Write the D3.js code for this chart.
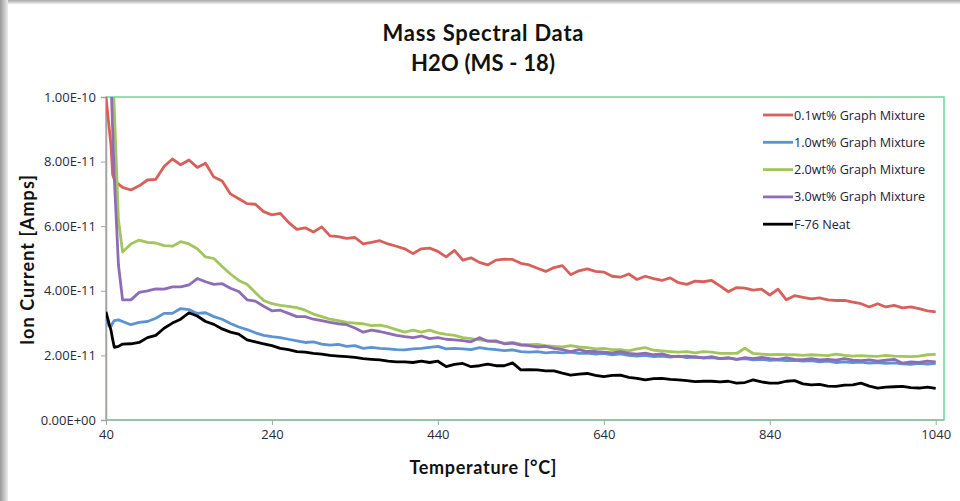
<!DOCTYPE html>
<html>
<head>
<meta charset="utf-8">
<script src="https://cdn.jsdelivr.net/npm/d3@7/dist/d3.min.js"></script>
<style>
  body { margin: 0; background: #fff; }
  text { font-family: Lato, "Open Sans", sans-serif; }
</style>
</head>
<body>
<div id="chart"></div>
<script>
// temperature in degC, values in units of 1E-11 Amps
var temps = [40, 42, 44, 46, 48, 50, 55, 60,
  70, 80, 90, 100, 110, 120, 130, 140, 150, 160,
  170, 180, 190, 200, 210, 220, 230, 240, 250, 260,
  270, 280, 290, 300, 310, 320, 330, 340, 350, 360,
  370, 380, 390, 400, 410, 420, 430, 440, 450, 460,
  470, 480, 490, 500, 510, 520, 530, 540, 550, 560,
  570, 580, 590, 600, 610, 620, 630, 640, 650, 660,
  670, 680, 690, 700, 710, 720, 730, 740, 750, 760,
  770, 780, 790, 800, 810, 820, 830, 840, 850, 860,
  870, 880, 890, 900, 910, 920, 930, 940, 950, 960,
  970, 980, 990, 1000, 1010, 1020, 1030, 1040];

var mix01 = [10.0, 9.5, 9.0, 8.5, 7.6, 7.45, 7.3, 7.2,
  7.12, 7.25, 7.43, 7.45, 7.85, 8.08, 7.9, 8.05, 7.82, 7.95,
  7.52, 7.4, 7.0, 6.85, 6.7, 6.68, 6.45, 6.35, 6.4, 6.12,
  5.9, 5.95, 5.82, 5.98, 5.7, 5.68, 5.62, 5.65, 5.45, 5.5,
  5.55, 5.45, 5.38, 5.3, 5.15, 5.3, 5.32, 5.22, 5.05, 5.25,
  4.95, 5.02, 4.88, 4.8, 4.95, 4.98, 4.97, 4.85, 4.8, 4.7,
  4.6, 4.72, 4.78, 4.5, 4.62, 4.68, 4.6, 4.58, 4.45, 4.42,
  4.52, 4.35, 4.45, 4.38, 4.32, 4.4, 4.25, 4.2, 4.3, 4.28,
  4.32, 4.15, 3.97, 4.1, 4.08, 4.02, 4.05, 3.87, 4.05, 3.72,
  3.85, 3.8, 3.75, 3.78, 3.72, 3.7, 3.7, 3.65, 3.6, 3.5,
  3.6, 3.5, 3.55, 3.47, 3.5, 3.45, 3.38, 3.35];

var mix10 = [3.15, 3.0, 2.9, 2.9, 3.0, 3.08, 3.1, 3.05,
  2.95, 3.02, 3.05, 3.15, 3.3, 3.3, 3.45, 3.42, 3.3, 3.32,
  3.2, 3.12, 2.99, 2.88, 2.8, 2.7, 2.62, 2.58, 2.55, 2.5,
  2.45, 2.4, 2.42, 2.35, 2.32, 2.34, 2.28, 2.3, 2.22, 2.25,
  2.22, 2.2, 2.18, 2.17, 2.2, 2.22, 2.25, 2.28, 2.2, 2.22,
  2.2, 2.18, 2.24, 2.2, 2.18, 2.15, 2.17, 2.12, 2.1, 2.12,
  2.08, 2.1, 2.08, 2.1, 2.06, 2.07, 2.04, 2.06, 2.02, 2.05,
  2.0, 1.98, 2.0, 1.96, 1.98, 1.95, 1.98, 1.93, 1.95, 1.92,
  1.93, 1.9, 1.92, 1.88, 1.9, 1.86, 1.88, 1.85, 1.86, 1.84,
  1.85, 1.82, 1.84, 1.8, 1.82, 1.78, 1.8, 1.78, 1.79, 1.76,
  1.78, 1.75, 1.77, 1.74, 1.72, 1.75, 1.73, 1.75];

var mix20 = [18, 16, 14, 12.5, 11, 9.6, 6.2, 5.2,
  5.45, 5.57, 5.5, 5.48, 5.4, 5.38, 5.52, 5.45, 5.3, 5.05,
  5.0, 4.75, 4.52, 4.32, 4.2, 3.95, 3.7, 3.6, 3.55, 3.52,
  3.48, 3.4, 3.28, 3.2, 3.12, 3.08, 3.02, 3.0, 2.98, 2.92,
  2.94, 2.88, 2.8, 2.72, 2.78, 2.72, 2.78, 2.7, 2.65, 2.62,
  2.55, 2.52, 2.48, 2.45, 2.42, 2.38, 2.4, 2.35, 2.33, 2.34,
  2.3, 2.28, 2.26, 2.3, 2.26, 2.24, 2.2, 2.22, 2.18, 2.18,
  2.14, 2.2, 2.24, 2.16, 2.14, 2.12, 2.1, 2.12, 2.08, 2.12,
  2.1, 2.06, 2.06, 2.06, 2.22, 2.06, 2.04, 2.02, 2.03, 2.02,
  2.02, 2.0, 2.02, 2.01, 1.99, 2.04, 2.0, 1.98, 1.99, 1.98,
  1.97, 2.0, 1.98, 1.97, 1.96, 1.98, 2.02, 2.03];

var mix30 = [16, 14, 12, 10.5, 9.0, 7.5, 4.8, 3.72,
  3.72, 3.95, 4.0, 4.06, 4.05, 4.12, 4.12, 4.18, 4.38, 4.28,
  4.2, 4.22, 4.08, 3.98, 3.72, 3.68, 3.52, 3.38, 3.4, 3.3,
  3.2, 3.2, 3.12, 3.08, 3.02, 2.98, 2.95, 2.85, 2.72, 2.78,
  2.74, 2.68, 2.62, 2.58, 2.55, 2.6, 2.52, 2.55, 2.5, 2.48,
  2.46, 2.42, 2.55, 2.44, 2.45, 2.36, 2.38, 2.32, 2.3, 2.26,
  2.28, 2.22, 2.18, 2.12, 2.18, 2.12, 2.12, 2.1, 2.08, 2.12,
  2.06, 2.04, 2.07, 2.02, 2.05, 1.98, 1.96, 1.98, 1.95, 1.92,
  1.96, 1.9, 1.92, 1.88, 1.93, 1.9, 1.94, 1.9, 1.88, 1.92,
  1.88, 1.87, 1.9, 1.86, 1.88, 1.85, 1.9, 1.85, 1.84, 1.86,
  1.82, 1.85, 1.88, 1.76, 1.8, 1.78, 1.82, 1.8];

var neat = [3.35, 3.15, 2.95, 2.78, 2.5, 2.25, 2.28, 2.35,
  2.36, 2.4, 2.55, 2.62, 2.84, 3.0, 3.12, 3.32, 3.22, 3.05,
  2.96, 2.82, 2.72, 2.66, 2.48, 2.42, 2.36, 2.3, 2.22, 2.18,
  2.12, 2.1, 2.06, 2.04, 2.0, 1.98, 1.96, 1.94, 1.9, 1.88,
  1.86, 1.82, 1.8, 1.8, 1.78, 1.82, 1.78, 1.82, 1.65, 1.72,
  1.75, 1.65, 1.68, 1.73, 1.68, 1.68, 1.77, 1.55, 1.56, 1.55,
  1.52, 1.52, 1.45, 1.39, 1.42, 1.44, 1.38, 1.34, 1.38, 1.39,
  1.32, 1.29, 1.24, 1.28, 1.29, 1.26, 1.24, 1.22, 1.19, 1.2,
  1.2, 1.18, 1.2, 1.14, 1.16, 1.24, 1.18, 1.14, 1.14, 1.2,
  1.22, 1.12, 1.09, 1.1, 1.05, 1.04, 1.08, 1.09, 1.14, 1.05,
  0.99, 1.02, 1.03, 1.04, 1.0, 0.99, 1.02, 0.98];

var seriesNames = ["0.1wt% Graph Mixture", "1.0wt% Graph Mixture", "2.0wt% Graph Mixture", "3.0wt% Graph Mixture", "F-76 Neat"];
var seriesValues = [mix01, mix10, mix20, mix30, neat];
var seriesColors = ["#d7605a", "#5b93d3", "#a2c65c", "#8e6cb8", "#000000"];

var xTicks = [40, 240, 440, 640, 840, 1040];
var yTicks = [0, 2, 4, 6, 8, 10];

function sciLabel(v) {
  var s = (v * 1e-11).toExponential(2).toUpperCase();
  return s.replace(/E([+-])(\d)$/, "E$10$2");
}

var W = 960, H = 501;
var svg = d3.select("#chart").append("svg").attr("width", W).attr("height", H);

// page shadow on the left and top
var defs = svg.append("defs");
var gl = defs.append("linearGradient").attr("id", "shL").attr("x1", 0).attr("x2", 1).attr("y1", 0).attr("y2", 0);
gl.append("stop").attr("offset", 0).attr("stop-color", "#9a9a9a");
gl.append("stop").attr("offset", 1).attr("stop-color", "#ececec");
var gt = defs.append("linearGradient").attr("id", "shT").attr("x1", 0).attr("x2", 0).attr("y1", 0).attr("y2", 1);
gt.append("stop").attr("offset", 0).attr("stop-color", "#a8a8a8");
gt.append("stop").attr("offset", 1).attr("stop-color", "#eeeeee");
svg.append("rect").attr("x", 0).attr("y", 0).attr("width", W).attr("height", 4).attr("fill", "url(#shT)");
svg.append("rect").attr("x", 0).attr("y", 0).attr("width", 8).attr("height", H).attr("fill", "url(#shL)");

var x = d3.scaleLinear().domain([40, 1050]).range([106, 944]);
var y = d3.scaleLinear().domain([0, 10]).range([420, 97]);

defs.append("clipPath").attr("id", "plotClip")
  .append("rect").attr("x", 106).attr("y", 97).attr("width", 838).attr("height", 323);

// plot area border
svg.append("rect").attr("x", 106).attr("y", 97).attr("width", 838).attr("height", 323)
  .attr("fill", "none").attr("stroke", "#6dd69c").attr("stroke-width", 1.5);

// Y axis
var yAxis = svg.append("g").attr("transform", "translate(106,0)")
  .call(d3.axisLeft(y).tickValues(yTicks).tickFormat(sciLabel).tickSize(5).tickPadding(5));
yAxis.select(".domain").attr("stroke", "#a3a3a3").attr("stroke-width", 1.5);
yAxis.selectAll(".tick line").attr("stroke", "#a3a3a3");
yAxis.selectAll("text").attr("font-size", 13).attr("fill", "#2a2a3a")
  .style("font-family", "'Open Sans', sans-serif");

// X axis
var xAxis = svg.append("g").attr("transform", "translate(0,420)")
  .call(d3.axisBottom(x).tickValues(xTicks).tickFormat(d3.format("d")).tickSize(5).tickPadding(5));
xAxis.select(".domain").attr("stroke", "#9cbaa6").attr("stroke-width", 1.5)
  .attr("d", "M106,0H944");
xAxis.selectAll(".tick line").attr("stroke", "#a3a3a3");
xAxis.selectAll("text").attr("font-size", 13).attr("fill", "#2a2a3a")
  .style("font-family", "'Open Sans', sans-serif");

// lines
var line = d3.line()
  .x(function(d, i) { return x(temps[i]); })
  .y(function(d) { return y(d); });

var plot = svg.append("g").attr("clip-path", "url(#plotClip)");
seriesValues.forEach(function(vals, k) {
  plot.append("path")
    .datum(vals)
    .attr("d", line)
    .attr("fill", "none")
    .attr("stroke", seriesColors[k])
    .attr("stroke-width", 2.8)
    .attr("stroke-linejoin", "round");
});

// titles
svg.append("text").attr("x", 483).attr("y", 41).attr("text-anchor", "middle")
  .attr("font-size", 22).attr("font-weight", "bold").attr("fill", "#111")
  .attr("textLength", 201)
  .text("Mass Spectral Data");
svg.append("text").attr("x", 483).attr("y", 71).attr("text-anchor", "middle")
  .attr("font-size", 22).attr("font-weight", "bold").attr("fill", "#111")
  .attr("textLength", 144)
  .text("H2O (MS - 18)");

svg.append("text").attr("x", 483).attr("y", 474).attr("text-anchor", "middle")
  .attr("font-size", 18).attr("font-weight", "bold").attr("fill", "#111")
  .attr("textLength", 147)
  .text("Temperature [°C]");
svg.append("text").attr("transform", "translate(34,260) rotate(-90)").attr("text-anchor", "middle")
  .attr("font-size", 18).attr("font-weight", "bold").attr("fill", "#111")
  .attr("textLength", 170)
  .text("Ion Current [Amps]");

// legend
var legend = svg.append("g").attr("transform", "translate(763,115)");
seriesNames.forEach(function(name, k) {
  var g = legend.append("g").attr("transform", "translate(0," + (k * 27.3) + ")");
  g.append("line").attr("x1", 0).attr("x2", 30).attr("y1", 0).attr("y2", 0)
    .attr("stroke", seriesColors[k]).attr("stroke-width", 2.8);
  g.append("text").attr("x", 31).attr("y", 4.5).attr("font-size", 12.6).attr("fill", "#22223a")
    .style("font-family", "'Open Sans', sans-serif")
    .text(name);
});
</script>
</body>
</html>
